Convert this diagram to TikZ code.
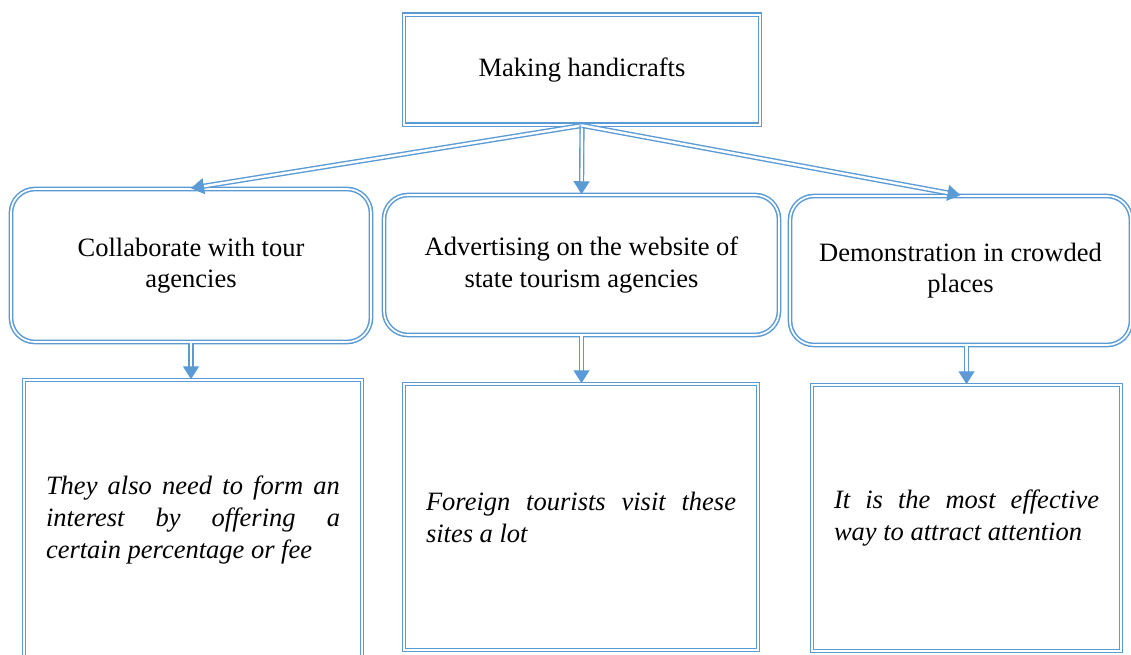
\documentclass[tikz,border=0pt]{standalone}
\usepackage{fontspec}
\setmainfont{Liberation Serif}
\usetikzlibrary{arrows.meta}
\definecolor{boxblue}{HTML}{5B9BD5}

\begin{document}
\begin{tikzpicture}[
  x=1pt,y=-1pt,
  dbl/.style={draw=boxblue, double=white, line width=1.5pt, double distance=1.7pt},
  headbox/.style={dbl, minimum width=356pt, minimum height=110pt, font=\fontsize{26.5}{31.5}\selectfont},
  wayb/.style={dbl, rounded corners=24pt, align=center, font=\fontsize{26.5}{31.5}\selectfont},
  notebox/.style={dbl, align=justify, font=\fontsize{26.5}{32}\selectfont\itshape},
  link/.style={-{Triangle[length=13pt,width=16pt]}, draw=boxblue, double=white, line width=1.4pt, double distance=2.4pt}
]
  \useasboundingbox (0,0) rectangle (1131,654);

  \node[headbox] (h0) at (582,69.7) {Making handicrafts};

  \node[wayb, minimum width=360pt, minimum height=153pt] (c1) at (191,265.5) {Collaborate with tour\\agencies};
  \node[wayb, minimum width=395pt, minimum height=140pt] (c2) at (581.5,265) {Advertising on the website of\\state tourism agencies};
  \node[wayb, minimum width=341pt, minimum height=149pt] (c3) at (960.5,270.5) {Demonstration in crowded\\places};

  \node[notebox, text width=294pt, minimum width=338pt, minimum height=280pt] (d1) at (193,520) {They also need to form an\linebreak interest by offering a\linebreak certain percentage or fee};
  \node[notebox, text width=310pt, minimum width=354pt, minimum height=266pt] (d2) at (581,517) {Foreign tourists visit these\linebreak sites a lot};
  \node[notebox, text width=265pt, minimum width=309pt, minimum height=266pt] (d3) at (966.5,518) {It is the most effective\linebreak way to attract attention};

  \draw[link] (h0.south) -- (c1.north);
  \draw[link] (h0.south) -- (c2.north);
  \draw[link] (h0.south) -- (c3.north);
  \draw[link] (c1.south) -- (c1.south |- d1.north);
  \draw[link] (c2.south) -- (c2.south |- d2.north);
  \draw[link] (d3.north |- c3.south) -- (d3.north);
\end{tikzpicture}
\end{document}
